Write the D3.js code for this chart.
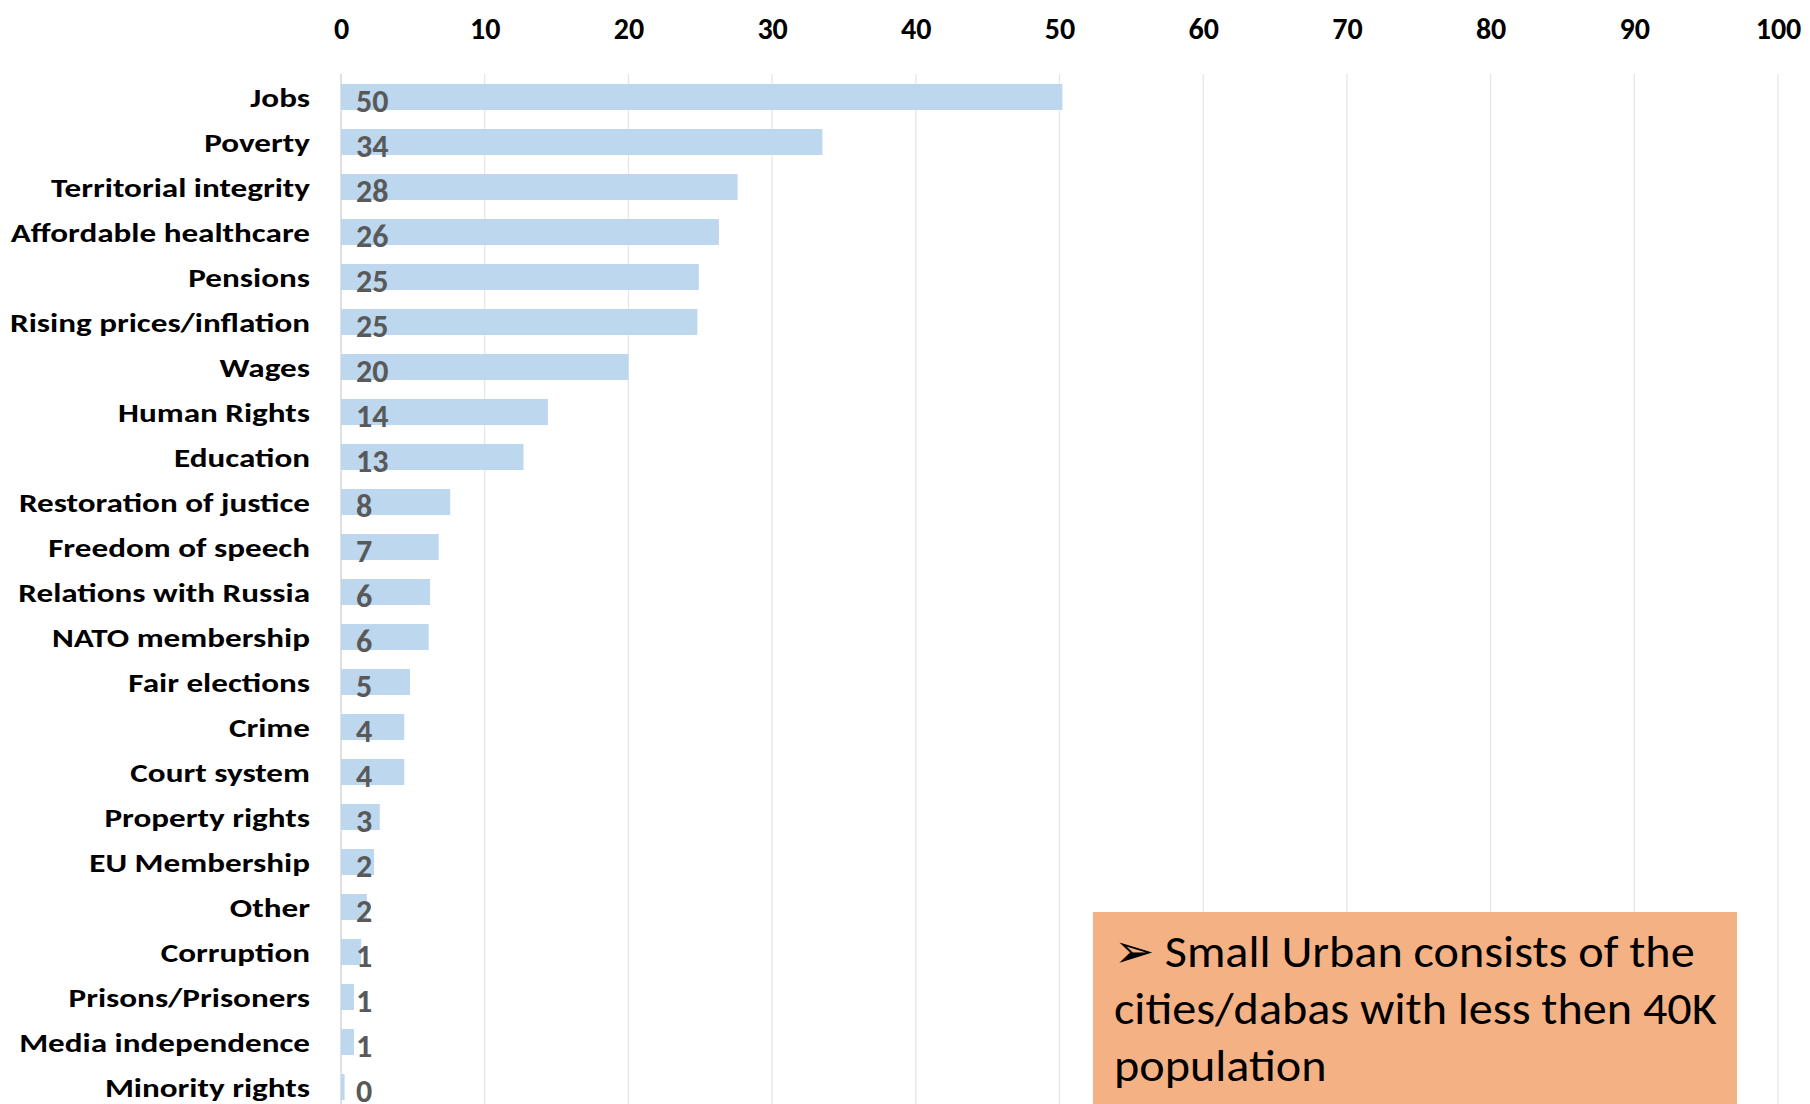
<!DOCTYPE html>
<html>
<head>
<meta charset="utf-8">
<script src="https://cdn.jsdelivr.net/npm/d3@7"></script>
<style>
  html, body { margin: 0; padding: 0; background: #ffffff; }
  svg { display: block; }
</style>
</head>
<body>
<svg id="chart" width="1810" height="1104"></svg>
<script>
const categories = [
  "Jobs", "Poverty", "Territorial integrity", "Affordable healthcare", "Pensions",
  "Rising prices/inflation", "Wages", "Human Rights", "Education", "Restoration of justice",
  "Freedom of speech", "Relations with Russia", "NATO membership", "Fair elections", "Crime",
  "Court system", "Property rights", "EU Membership", "Other", "Corruption",
  "Prisons/Prisoners", "Media independence", "Minority rights"
];
const values = [
  50.2, 33.5, 27.6, 26.3, 24.9,
  24.8, 20.0, 14.4, 12.7, 7.6,
  6.8, 6.2, 6.1, 4.8, 4.4,
  4.4, 2.7, 2.3, 1.8, 1.4,
  0.9, 0.9, 0.25
];
const tickValues = [0, 10, 20, 30, 40, 50, 60, 70, 80, 90, 100];
const noteLines = [
  "\u27A2 Small Urban consists of the",
  "cities/dabas with less then 40K",
  "population"
];

const FONT = "Carlito, Calibri, Lato, 'Open Sans', sans-serif";
const svg = d3.select("#chart");

const x = d3.scaleLinear().domain([0, 100]).range([341, 1778]);
const step = 45;
const y = d3.scaleBand()
  .domain(categories)
  .range([74.5, 74.5 + step * categories.length])
  .paddingInner(0.422)
  .paddingOuter(0.211);

// gridlines
svg.append("g")
  .selectAll("line")
  .data(tickValues)
  .join("line")
  .attr("x1", d => x(d)).attr("x2", d => x(d))
  .attr("y1", 74).attr("y2", 1104)
  .attr("stroke", d => d === 0 ? "#d0d0d0" : "#e6e6e6")
  .attr("stroke-width", 1.3);

// top axis labels
const axis = d3.axisTop(x).tickValues(tickValues).tickSize(0).tickPadding(0);
const gAxis = svg.append("g").attr("transform", "translate(0,38.5)").call(axis);
gAxis.select(".domain").remove();
gAxis.selectAll("text")
  .attr("font-family", FONT)
  .attr("font-size", 30)
  .attr("font-weight", "bold")
  .attr("fill", "#000")
  .attr("dy", 0);

// bars
svg.append("g")
  .selectAll("rect")
  .data(values)
  .join("rect")
  .attr("x", x(0))
  .attr("y", (d, i) => y(categories[i]))
  .attr("width", d => x(d) - x(0))
  .attr("height", y.bandwidth())
  .attr("fill", "#bdd7ee");

// value labels
svg.append("g")
  .selectAll("text")
  .data(values)
  .join("text")
  .attr("x", x(0) + 15)
  .attr("y", (d, i) => y(categories[i]) + y.bandwidth() + 2)
  .attr("font-family", FONT)
  .attr("font-size", 32)
  .attr("font-weight", "bold")
  .attr("fill", "#595959")
  .text(d => Math.round(d));

// category labels
const yAxis = d3.axisLeft(y).tickSize(0).tickPadding(0);
const gY = svg.append("g").attr("transform", "translate(310,0)").call(yAxis);
gY.select(".domain").remove();
gY.selectAll("text")
  .attr("font-family", FONT)
  .attr("font-size", 25.5)
  .attr("font-weight", "bold")
  .attr("fill", "#000")
  .attr("x", 0)
  .attr("dy", 0)
  .attr("y", 9.5)
  .attr("transform", "scale(1.3,1)");

// note box
const box = svg.append("g");
box.append("rect")
  .attr("x", 1093).attr("y", 912)
  .attr("width", 644).attr("height", 200)
  .attr("fill", "#f4b183");
box.selectAll("text")
  .data(noteLines)
  .join("text")
  .attr("transform", (d, i) => `translate(1114,${967 + i * 57}) scale(1.047,1)`)
  .attr("font-family", FONT)
  .attr("font-size", 46)
  .attr("fill", "#000")
  .text(d => d);
</script>
</body>
</html>
